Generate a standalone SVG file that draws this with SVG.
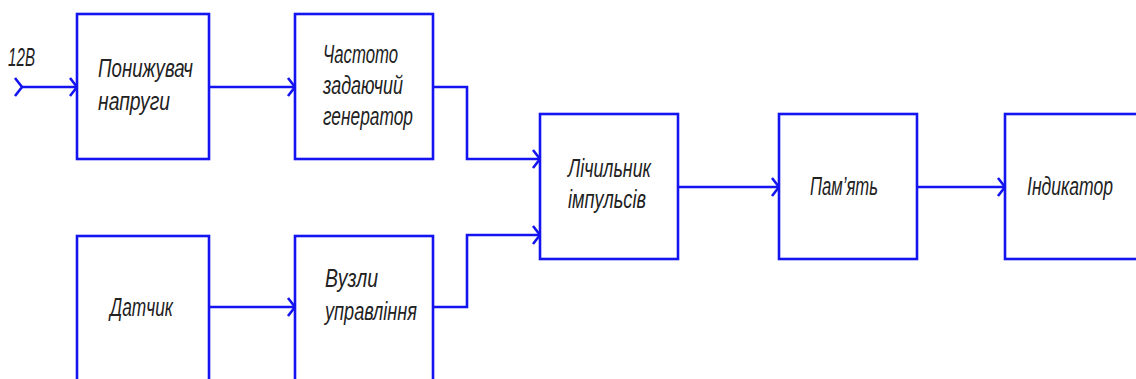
<svg xmlns="http://www.w3.org/2000/svg" width="1136" height="379" viewBox="0 0 1136 379">
<style>
.box{fill:#fff;stroke:#1414f0;stroke-width:2.6}
.con{fill:none;stroke:#1414f0;stroke-width:2.6}
.t{font-family:"Liberation Sans",Arial,sans-serif;font-style:italic;font-size:25px;fill:#222}
</style>
<defs>
<marker id="ah" markerUnits="userSpaceOnUse" viewBox="0 0 10 20" refX="8" refY="10" markerWidth="10" markerHeight="20" orient="auto" overflow="visible">
<path d="M1,1 L8,10 L1,19" fill="none" stroke="#1414f0" stroke-width="2.6"/>
</marker>
</defs>
<rect width="1136" height="379" fill="#fff"/>
<g id="connectors">
<path class="con" d="M22,87 H77" marker-start="url(#ah)" marker-end="url(#ah)"/>
<path class="con" d="M209,87 H295" marker-end="url(#ah)"/>
<path class="con" d="M433,87 H467 V159 H540" marker-end="url(#ah)"/>
<path class="con" d="M209,307 H295" marker-end="url(#ah)"/>
<path class="con" d="M433,307 H467 V235 H540" marker-end="url(#ah)"/>
<path class="con" d="M678,187 H779" marker-end="url(#ah)"/>
<path class="con" d="M917,187 H1005" marker-end="url(#ah)"/>
</g>
<text class="t" x="8" y="66" textLength="27" lengthAdjust="spacingAndGlyphs">12B</text>
<g id="n1">
<rect class="box" x="77" y="14" width="132" height="145"/>
<text class="t" x="98" y="77" textLength="95" lengthAdjust="spacingAndGlyphs">Понижувач</text>
<text class="t" x="98" y="110" textLength="72" lengthAdjust="spacingAndGlyphs">напруги</text>
</g>
<g id="n2">
<rect class="box" x="295" y="14" width="138" height="145"/>
<text class="t" x="323" y="63" textLength="75" lengthAdjust="spacingAndGlyphs">Частото</text>
<text class="t" x="323" y="94" textLength="80" lengthAdjust="spacingAndGlyphs">задаючий</text>
<text class="t" x="323" y="125" textLength="90" lengthAdjust="spacingAndGlyphs">генератор</text>
</g>
<g id="n3">
<rect class="box" x="77" y="236" width="132" height="160"/>
<text class="t" x="110" y="316" textLength="63" lengthAdjust="spacingAndGlyphs">Датчик</text>
</g>
<g id="n4">
<rect class="box" x="295" y="236" width="138" height="160"/>
<text class="t" x="325" y="287" textLength="53" lengthAdjust="spacingAndGlyphs">Вузли</text>
<text class="t" x="325" y="320" textLength="92" lengthAdjust="spacingAndGlyphs">управління</text>
</g>
<g id="n5">
<rect class="box" x="540" y="114" width="138" height="145"/>
<text class="t" x="568" y="177" textLength="83" lengthAdjust="spacingAndGlyphs">Лічильник</text>
<text class="t" x="568" y="208" textLength="78" lengthAdjust="spacingAndGlyphs">імпульсів</text>
</g>
<g id="n6">
<rect class="box" x="779" y="114" width="138" height="145"/>
<text class="t" x="810" y="195" textLength="68" lengthAdjust="spacingAndGlyphs">Пам’ять</text>
</g>
<g id="n7">
<rect class="box" x="1005" y="114" width="145" height="145"/>
<text class="t" x="1027" y="195" textLength="86" lengthAdjust="spacingAndGlyphs">Індикатор</text>
</g>
</svg>
